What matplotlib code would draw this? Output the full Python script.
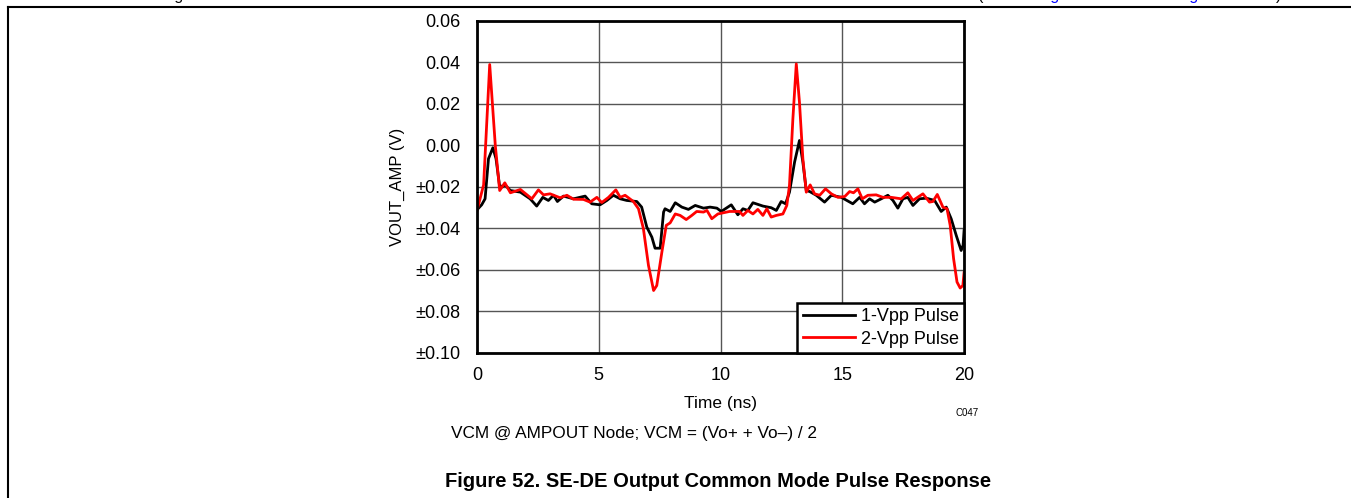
import matplotlib.pyplot as plt
from matplotlib.lines import Line2D

plt.rcParams['font.family'] = ['Liberation Sans', 'DejaVu Sans']

# 1-Vpp pulse (black)
t_1vpp = [0.0, 0.19, 0.33, 0.47, 0.65, 0.78, 0.92, 1.02, 1.15, 1.37, 1.78, 2.18, 2.45, 2.7,
          2.93, 3.14, 3.3, 3.55, 3.96, 4.44, 4.71, 5.05, 5.33, 5.6, 5.88, 6.15, 6.56, 6.76,
          6.97, 7.18, 7.31, 7.52, 7.66, 7.72, 7.93, 8.14, 8.41, 8.68, 8.96, 9.3, 9.57, 9.85,
          10.03, 10.44, 10.71, 10.92, 11.12, 11.33, 11.74, 12.08, 12.29, 12.49, 12.67, 12.83,
          13.04, 13.24, 13.38, 13.52, 13.66, 13.93, 14.27, 14.55, 14.96, 15.43, 15.71, 15.91,
          16.12, 16.33, 16.6, 16.87, 17.08, 17.28, 17.49, 17.69, 17.9, 18.17, 18.45, 18.79,
          19.06, 19.27, 19.47, 19.68, 19.88, 19.96, 20.0]
v_1vpp = [-0.031, -0.0286, -0.0257, -0.0064, -0.0011, -0.0064, -0.019, -0.020, -0.019, -0.0217,
          -0.0225, -0.0257, -0.0292, -0.025, -0.0265, -0.024, -0.027, -0.0244, -0.0257, -0.0244,
          -0.0281, -0.0286, -0.0265, -0.024, -0.0257, -0.0265, -0.027, -0.0297, -0.0393, -0.0442,
          -0.0495, -0.0495, -0.0321, -0.0305, -0.0318, -0.0276, -0.0297, -0.0308, -0.0289, -0.0302,
          -0.0297, -0.0302, -0.0318, -0.0286, -0.0334, -0.0305, -0.0313, -0.0276, -0.0292, -0.030,
          -0.0313, -0.027, -0.0281, -0.0225, -0.008, 0.0024, -0.008, -0.0217, -0.0222, -0.024,
          -0.0273, -0.024, -0.025, -0.0281, -0.025, -0.0281, -0.0257, -0.0273, -0.0257, -0.024,
          -0.0265, -0.0302, -0.0257, -0.025, -0.0289, -0.0257, -0.0254, -0.0265, -0.0318, -0.0297,
          -0.0353, -0.0434, -0.0506, -0.048, -0.041]

# 2-Vpp pulse (red)
t_2vpp = [0.0, 0.27, 0.52, 0.75, 0.93, 1.14, 1.37, 1.78, 2.25, 2.52, 2.73, 3.0, 3.41, 3.69,
          3.96, 4.37, 4.64, 4.92, 5.12, 5.4, 5.7, 5.88, 6.08, 6.42, 6.63, 6.83, 7.04, 7.25,
          7.38, 7.59, 7.77, 7.93, 8.14, 8.34, 8.59, 8.82, 9.02, 9.3, 9.44, 9.64, 9.89, 10.37,
          10.78, 10.92, 11.12, 11.33, 11.53, 11.74, 11.9, 12.08, 12.29, 12.56, 12.72, 12.83,
          12.97, 13.11, 13.24, 13.38, 13.52, 13.68, 13.86, 14.07, 14.31, 14.55, 14.82, 15.1,
          15.3, 15.46, 15.64, 15.82, 16.05, 16.39, 16.67, 17.01, 17.42, 17.69, 17.9, 18.31,
          18.58, 18.72, 18.9, 19.13, 19.3, 19.43, 19.57, 19.71, 19.84, 19.95, 20.0]
v_2vpp = [-0.0313, -0.019, 0.039, 0.0, -0.0217, -0.018, -0.0228, -0.0212, -0.0257, -0.0214,
          -0.0238, -0.0233, -0.0252, -0.024, -0.0259, -0.026, -0.0273, -0.025, -0.0275, -0.025,
          -0.0214, -0.025, -0.024, -0.027, -0.0305, -0.040, -0.0578, -0.0699, -0.0675, -0.0514,
          -0.0385, -0.0373, -0.033, -0.0337, -0.0357, -0.0337, -0.0318, -0.0321, -0.0313, -0.0353,
          -0.033, -0.0318, -0.0318, -0.0337, -0.0313, -0.033, -0.0308, -0.0337, -0.0305, -0.0345,
          -0.0337, -0.033, -0.0289, -0.0193, 0.0128, 0.0393, 0.0209, -0.0064, -0.0225, -0.019,
          -0.0233, -0.024, -0.0209, -0.0233, -0.025, -0.0246, -0.0222, -0.0228, -0.0209, -0.0257,
          -0.024, -0.0238, -0.025, -0.025, -0.0257, -0.0228, -0.0265, -0.0233, -0.0273, -0.027,
          -0.0236, -0.0297, -0.0305, -0.0385, -0.0546, -0.0658, -0.0687, -0.0675, -0.0613]

y_ticks = [0.06, 0.04, 0.02, 0.0, -0.02, -0.04, -0.06, -0.08, -0.10]
y_tick_labels = ['0.06', '0.04', '0.02', '0.00', '±0.02', '±0.04', '±0.06', '±0.08', '±0.10']
x_ticks = [0, 5, 10, 15, 20]

fig = plt.figure(figsize=(13.51, 4.98), dpi=100)
ax = fig.add_axes([0.3531, 0.2912, 0.3605, 0.6667])

ax.plot(t_1vpp, v_1vpp, color='black', lw=2, label='1-Vpp Pulse', zorder=3)
ax.plot(t_2vpp, v_2vpp, color='#ff0000', lw=2, label='2-Vpp Pulse', zorder=4)

ax.set_xlim(0, 20)
ax.set_ylim(-0.10, 0.06)
ax.set_xticks(x_ticks)
ax.set_yticks(y_ticks)
ax.set_yticklabels(y_tick_labels)
ax.tick_params(axis='both', length=0, labelsize=13)
ax.tick_params(axis='y', pad=12)
ax.tick_params(axis='x', pad=10)
ax.grid(True, color='#555555', lw=1)
for s in ax.spines.values():
    s.set_linewidth(2)
    s.set_zorder(5)

ax.set_xlabel('Time (ns)', fontsize=12.5, labelpad=9)
ax.set_ylabel('VOUT_AMP (V)', fontsize=12, labelpad=7)

leg = ax.legend(loc='lower right', borderaxespad=0, fontsize=13, fancybox=False,
                handlelength=2.9, borderpad=0.3, labelspacing=0.3, handletextpad=0.3)
leg.get_frame().set_edgecolor('black')
leg.get_frame().set_linewidth(1.8)
leg.get_frame().set_alpha(1)

fig.text(955 / 1351, 1 - 413 / 498, 'C047', fontsize=7, ha='left', va='center')
fig.text(634 / 1351, 1 - 433 / 498, 'VCM @ AMPOUT Node; VCM = (Vo+ + Vo\u2013) / 2',
         fontsize=12.4, ha='center', va='center')
fig.text(718 / 1351, 1 - 481 / 498, 'Figure 52. SE-DE Output Common Mode Pulse Response',
         fontsize=14.5, fontweight='bold', ha='center', va='center')

# page frame and cut-off text line above it
fig.add_artist(Line2D([8 / 1351, 1], [1 - 7 / 498, 1 - 7 / 498], color='black', lw=1.5,
                      transform=fig.transFigure))
fig.add_artist(Line2D([8 / 1351, 8 / 1351], [0, 1 - 7 / 498], color='black', lw=1.5,
                      transform=fig.transFigure))
fig.text(162 / 1351, 1.0, 'Figure', fontsize=11.5, ha='left', va='baseline')
fig.text(978 / 1351, 1.0, '(see', fontsize=11.5, ha='left', va='baseline')
fig.text(1037 / 1351, 1.0, 'Figure 49', fontsize=11.5, ha='left', va='baseline', color='#0000ff')
fig.text(1176 / 1351, 1.0, 'Figure 50', fontsize=11.5, ha='left', va='baseline', color='#0000ff')
fig.text(1276 / 1351, 1.0, ')', fontsize=11.5, ha='left', va='baseline')

fig.savefig('out.png', dpi=100)
